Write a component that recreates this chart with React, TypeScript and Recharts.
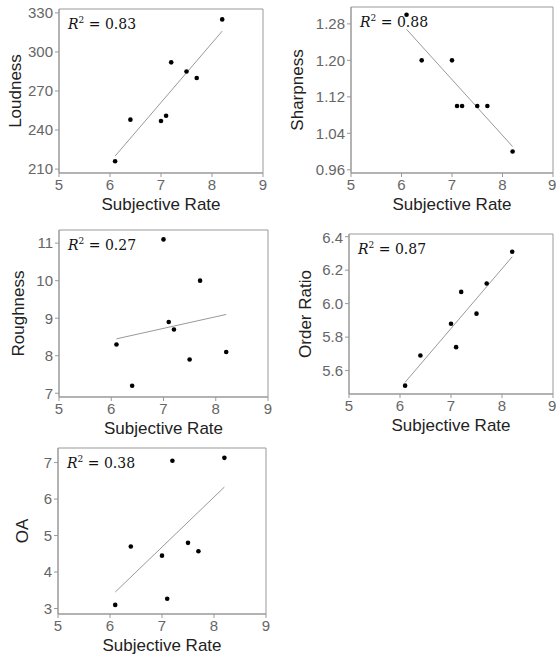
import {
  ReferenceArea,
  ReferenceLine,
  Scatter,
  ScatterChart,
  XAxis,
  YAxis,
} from "recharts";

// 主観評価値 (x) と各指標 (y)
const subjectiveRate = [6.1, 6.4, 7.0, 7.1, 7.2, 7.5, 7.7, 8.2];
const loudness = [216, 248, 247, 251, 292, 285, 280, 325];
const sharpness = [1.3, 1.2, 1.2, 1.1, 1.1, 1.1, 1.1, 1.0];
const roughness = [8.3, 7.2, 11.1, 8.9, 8.7, 7.9, 10.0, 8.1];
const orderRatio = [5.51, 5.69, 5.88, 5.74, 6.07, 5.94, 6.12, 6.31];
const oa = [3.1, 4.7, 4.45, 3.27, 7.05, 4.8, 4.57, 7.13];

// 回帰直線の両端
const fitX = [6.1, 8.2];
const loudnessFit = [220, 316];
const sharpnessFit = [1.268, 1.011];
const roughnessFit = [8.45, 9.1];
const orderRatioFit = [5.53, 6.28];
const oaFit = [3.45, 6.33];

const xTicks = [5, 6, 7, 8, 9];
const loudnessTicks = [210, 240, 270, 300, 330];
const sharpnessTicks = [0.96, 1.04, 1.12, 1.2, 1.28];
const roughnessTicks = [7, 8, 9, 10, 11];
const orderRatioTicks = [5.6, 5.8, 6.0, 6.2, 6.4];
const oaTicks = [3, 4, 5, 6, 7];

const rSquared = ["0.83", "0.88", "0.27", "0.87", "0.38"];

type Panel = {
  name: string;
  values: number[];
  fit: number[];
  ticks: number[];
  domain: [number, number];
  digits: number;
  r2: string;
  left: number;
  plotLeft: number;
  plotTop: number;
  plotBottom: number;
  plotRight: number;
  labelX: number;
};

const panels: Panel[] = [
  {
    name: "Loudness",
    values: loudness,
    fit: loudnessFit,
    ticks: loudnessTicks,
    domain: [207, 333],
    digits: 0,
    r2: rSquared[0],
    left: 0,
    plotLeft: 59,
    plotTop: 9,
    plotBottom: 173,
    plotRight: 263,
    labelX: 15,
  },
  {
    name: "Sharpness",
    values: sharpness,
    fit: sharpnessFit,
    ticks: sharpnessTicks,
    domain: [0.953, 1.317],
    digits: 2,
    r2: rSquared[1],
    left: 280,
    plotLeft: 351,
    plotTop: 7,
    plotBottom: 173,
    plotRight: 553,
    labelX: 297,
  },
  {
    name: "Roughness",
    values: roughness,
    fit: roughnessFit,
    ticks: roughnessTicks,
    domain: [6.9, 11.35],
    digits: 0,
    r2: rSquared[2],
    left: 0,
    plotLeft: 59,
    plotTop: 230,
    plotBottom: 397,
    plotRight: 268,
    labelX: 18,
  },
  {
    name: "Order Ratio",
    values: orderRatio,
    fit: orderRatioFit,
    ticks: orderRatioTicks,
    domain: [5.46, 6.416],
    digits: 1,
    r2: rSquared[3],
    left: 280,
    plotLeft: 349,
    plotTop: 234,
    plotBottom: 394,
    plotRight: 553,
    labelX: 305,
  },
  {
    name: "OA",
    values: oa,
    fit: oaFit,
    ticks: oaTicks,
    domain: [2.85, 7.4],
    digits: 0,
    r2: rSquared[4],
    left: 0,
    plotLeft: 58,
    plotTop: 448,
    plotBottom: 614,
    plotRight: 266,
    labelX: 22,
  },
];

const Dot = (props: any) => (
  <circle cx={props.cx} cy={props.cy} r={2.3} fill="#000" />
);

function ScatterPanel({ p }: { p: Panel }) {
  const data = subjectiveRate.map((x, i) => ({ x, y: p.values[i] }));
  const chartTop = p.plotTop - 5;
  const chartLeft = p.left;
  const width = p.left === 0 ? 280 : 276;
  const marginLeft = p.labelX - chartLeft - 5;
  const yWidth = p.plotLeft - chartLeft - marginLeft;
  const marginRight = chartLeft + width - p.plotRight;
  const height = 5 + (p.plotBottom - p.plotTop) + 42 + 8;

  return (
    <div style={{ position: "absolute", left: chartLeft, top: chartTop }}>
      <ScatterChart
        width={width}
        height={height}
        margin={{ top: 5, right: marginRight, bottom: 8, left: marginLeft }}
        style={{ overflow: "visible" }}
      >
        <XAxis
          type="number"
          dataKey="x"
          domain={[5, 9]}
          ticks={xTicks}
          allowDataOverflow
          height={42}
          tickSize={4}
          tick={{ fill: "#666", fontSize: 15 }}
          stroke="#999"
          label={{
            value: "Subjective Rate",
            position: "insideBottom",
            offset: 5,
            style: { fill: "#222", fontSize: 17 },
          }}
        />
        <YAxis
          type="number"
          dataKey="y"
          domain={p.domain}
          ticks={p.ticks}
          allowDataOverflow
          width={yWidth}
          tickSize={4}
          tickFormatter={(v: number) => v.toFixed(p.digits)}
          tick={{ fill: "#666", fontSize: 15 }}
          stroke="#999"
          label={{
            value: p.name,
            angle: -90,
            position: "insideLeft",
            style: { textAnchor: "middle", fill: "#222", fontSize: 17 },
          }}
        />
        <ReferenceArea
          x1={5}
          x2={9}
          y1={p.domain[0]}
          y2={p.domain[1]}
          fill="none"
          stroke="#999"
          strokeWidth={1}
        />
        <ReferenceLine
          segment={[
            { x: fitX[0], y: p.fit[0] },
            { x: fitX[1], y: p.fit[1] },
          ]}
          stroke="#999"
          strokeWidth={1}
        />
        <Scatter data={data} shape={Dot} isAnimationActive={false} />
      </ScatterChart>
      <div
        style={{
          position: "absolute",
          left: p.plotLeft - chartLeft + 9,
          top: 5 + 3,
          fontFamily: "'DejaVu Serif', serif",
          fontSize: 14,
          color: "#111",
          lineHeight: "16px",
        }}
      >
        <i>R</i>
        <sup style={{ fontSize: 9 }}>2</sup> = {p.r2}
      </div>
    </div>
  );
}

export default function App() {
  return (
    <div
      style={{
        position: "absolute",
        left: 0,
        top: 0,
        width: 556,
        height: 657,
        background: "#fff",
        overflow: "hidden",
        fontFamily: "'Liberation Sans', Arial, sans-serif",
      }}
    >
      {panels.map((p) => (
        <ScatterPanel key={p.name} p={p} />
      ))}
    </div>
  );
}
